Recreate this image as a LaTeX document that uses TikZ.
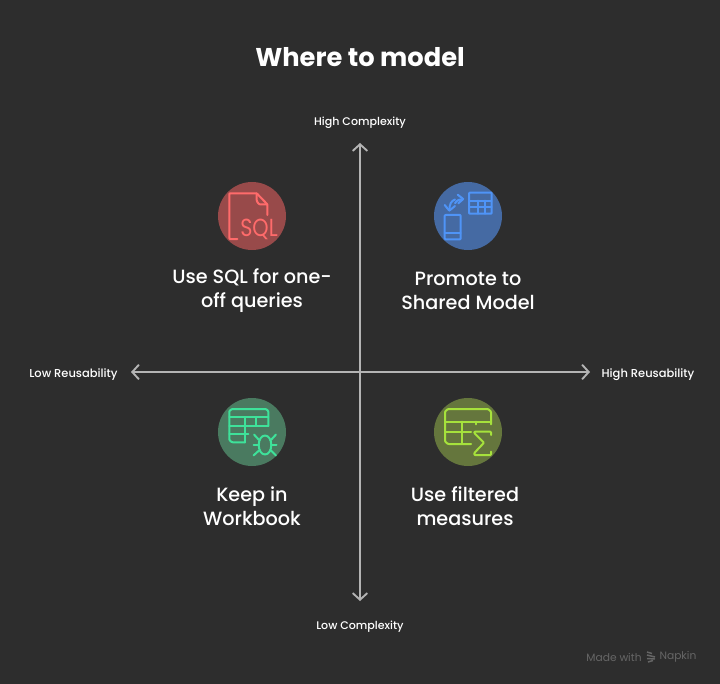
\documentclass[tikz,border=0pt]{standalone}
\usepackage{fontspec}
\setmainfont{Poppins}
\newfontfamily\quadfont{Poppins Medium}
\usetikzlibrary{arrows.meta, positioning}
\definecolor{bgdark}{HTML}{2D2D2D}
\definecolor{axisgray}{HTML}{B4B4B4}
\definecolor{credit}{HTML}{666666}
\definecolor{sqlred}{HTML}{FF6B6B}
\definecolor{sqlfill}{HTML}{984A4A}
\definecolor{modelblue}{HTML}{4F94F7}
\definecolor{modelfill}{HTML}{456AA3}
\definecolor{bookgreen}{HTML}{3EE29A}
\definecolor{bookfill}{HTML}{4A7A60}
\definecolor{sumolive}{HTML}{A6E23C}
\definecolor{sumfill}{HTML}{65763D}

\begin{document}
\begin{tikzpicture}[
    x=0.75pt, y=-0.75pt,
    every node/.style={text=white, inner sep=0pt},
    titletext/.style={font=\fontsize{19.3}{24}\selectfont\bfseries},
    quadtext/.style={
        align=center,
        font=\quadfont\fontsize{14.4}{18}\selectfont
    },
    axistext/.style={font=\quadfont\fontsize{8.3}{10}\selectfont},
    reusetext/.style={font=\quadfont\fontsize{8.6}{10}\selectfont},
    credittext/.style={text=credit, font=\fontsize{8}{10}\selectfont},
    axisline/.style={
        {Straight Barb[length=5pt,width=11pt]}-{Straight Barb[length=5pt,width=11pt]},
        line width=1.4pt,
        draw=axisgray
    },
    icon/.style={line width=1.5pt, line cap=round, line join=round, rounded corners=0.6pt},
    blob/.style={circle, minimum size=51pt, inner sep=0pt}
]

% Background
\fill[bgdark] (0,0) rectangle (720,684);
\useasboundingbox (0,0) rectangle (720,684);

% Title
\node[titletext] (title) at (360,57) {Where to model};

% Axes
\coordinate (axistop) at (360,143);
\coordinate (axisbottom) at (360,601);
\coordinate (axisleft) at (131,372);
\coordinate (axisright) at (590,372);
\draw[axisline] (axistop) -- (axisbottom);
\draw[axisline] (axisleft) -- (axisright);

% Axis labels
\node[axistext] (highcomplex) at (360,122.5) {High Complexity};
\node[axistext] (lowcomplex) at (360,626.5) {Low Complexity};
\node[reusetext] (lowreuse) at (73.5,374.5) {Low Reusability};
\node[reusetext] (highreuse) at (648,374.5) {High Reusability};

% Circles
\node[blob, fill=sqlfill] (sqlblob) at (252,216) {};
\node[blob, fill=modelfill] (modelblob) at (468,216) {};
\node[blob, fill=bookfill] (bookblob) at (252,432) {};
\node[blob, fill=sumfill] (sumblob) at (468,432) {};

% Quadrant labels
\node[quadtext] (sqltext) at (252,291) {Use SQL for one-\\off queries};
\node[quadtext] (modeltext) at (468,291) {Promote to\\Shared Model};
\node[quadtext] (booktext) at (252,506.5) {Keep in\\Workbook};
\node[quadtext] (sumtext) at (465,506.5) {Use filtered\\measures};

% Icon: SQL file
\draw[icon, draw=sqlred] (237.3,239) -- (229.3,239) -- (229.3,193.3) -- (256.7,193.3) -- (267.3,204.3) -- (267.3,215);
\draw[icon, draw=sqlred] (256.7,193.3) -- (256.7,201) -- (259,204.3) -- (267.3,204.3);
\node[text=sqlred, font=\fontsize{18.5}{18}\selectfont, xscale=0.84] (sqlword) at (259,229.5) {SQL};

% Icon: table and phone
\draw[icon, draw=modelblue] (469,192.7) rectangle (491.7,213.7);
\draw[icon, draw=modelblue] (469,200.7) -- (491.7,200.7);
\draw[icon, draw=modelblue] (469,207.3) -- (491.7,207.3);
\draw[icon, draw=modelblue] (478.3,200.7) -- (478.3,213.7);
\draw[icon, draw=modelblue] (485,200.7) -- (485,213.7);
\draw[icon, draw=modelblue] (444.7,215) rectangle (460.7,239.3);
\draw[icon, draw=modelblue] (444.7,232.7) -- (460.7,232.7);
\draw[icon, draw=modelblue] (449.3,210.7) .. controls (449.5,204) and (451,201) .. (455,199.5);
\draw[icon, draw=modelblue] (455,203.3) .. controls (457,200) and (460,199) .. (463.3,199);
\draw[icon, draw=modelblue] (444.7,205) -- (449.3,210.7) -- (455,206);
\draw[icon, draw=modelblue] (457.7,194.7) -- (463.3,199) -- (458.3,203.3);

% Icon: table and bug
\draw[icon, draw=bookgreen] (245,442.3) -- (232,442.3) -- (229.3,440) -- (229.3,411) -- (232,409) -- (266,409) -- (268.3,411) -- (268.3,426);
\draw[icon, draw=bookgreen] (229.3,417.3) -- (268.3,417.3);
\draw[icon, draw=bookgreen] (229.3,426) -- (268.3,426);
\draw[icon, draw=bookgreen] (229.3,434) -- (248.3,434);
\draw[icon, draw=bookgreen] (245,417.3) -- (245,442.3);
\draw[icon, draw=bookgreen] (256,417.3) -- (256,426);
\draw[icon, draw=bookgreen] (265,445) ellipse (6.3 and 9.5);
\draw[icon, draw=bookgreen] (259,440) -- (254,434.5);
\draw[icon, draw=bookgreen] (271,440) -- (276,434.5);
\draw[icon, draw=bookgreen] (253.5,445) -- (259,445);
\draw[icon, draw=bookgreen] (271,445) -- (276.5,445);
\draw[icon, draw=bookgreen] (259,450.5) -- (253.5,455.5);
\draw[icon, draw=bookgreen] (271,450.5) -- (276,455.5);

% Icon: table and sigma
\draw[icon, draw=sumolive] (471,444) -- (448,444) -- (445,441.5) -- (445,411.5) -- (448,409) -- (488,409) -- (491,411.5) -- (491,424.3);
\draw[icon, draw=sumolive] (445,421.7) -- (491,421.7);
\draw[icon, draw=sumolive] (445,431.7) -- (471,431.7);
\draw[icon, draw=sumolive] (461.7,421.7) -- (461.7,444);
\draw[icon, draw=sumolive] (476,421.7) -- (476,424.3);
\draw[icon, draw=sumolive] (491,435) -- (491,431.7) -- (474.3,431.7) -- (474.3,433) -- (484,442.7) -- (474.3,453) -- (474.3,455) -- (491,455) -- (491,451.7);

% Credit
\node[credittext] (madewith) at (614,657) {Made with};
\node[credittext] (napkin) at (678,657) {Napkin};
\draw[credit, line width=1.1pt] (647,652) -- (652,653.5);
\draw[credit, line width=1.1pt] (647,655) -- (655,657);
\draw[credit, line width=1.1pt] (647,658.5) -- (655,659);
\draw[credit, line width=1.1pt] (648,662) -- (653,660.5);

\end{tikzpicture}
\end{document}
